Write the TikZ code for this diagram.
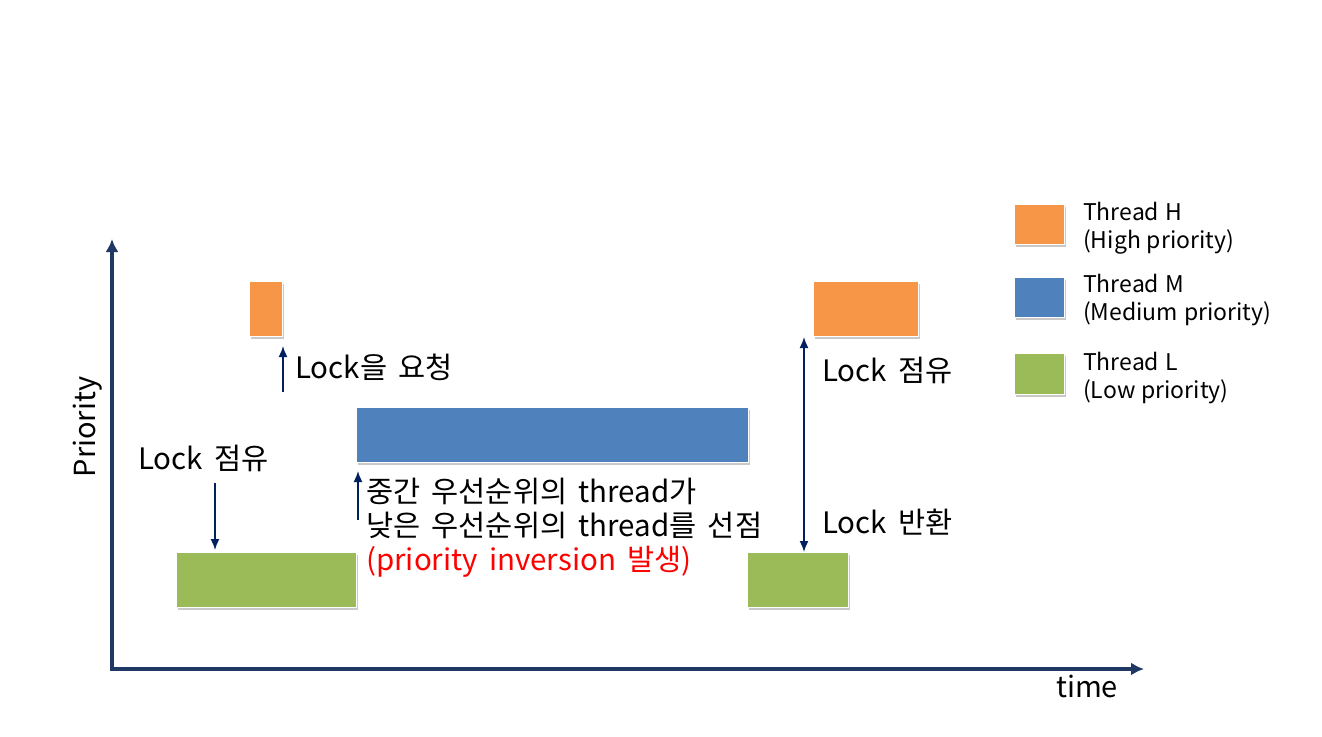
\documentclass[tikz,border=0pt]{standalone}
\usepackage{fontspec}
\setmainfont{Noto Sans CJK KR}[WordSpace=1.7]
\newfontfamily\legfont{Noto Sans CJK KR}[WordSpace=1.15]
\usetikzlibrary{arrows.meta,shadows}
\definecolor{cH}{HTML}{F79646}
\definecolor{cM}{HTML}{4F81BD}
\definecolor{cL}{HTML}{9BBB59}
\definecolor{axisc}{HTML}{1F3864}
\definecolor{arrc}{HTML}{002060}
\definecolor{redc}{HTML}{FF0000}
\begin{document}
\begin{tikzpicture}[x=1pt,y=-1pt,
  box/.style={draw=white, line width=1.2pt, inner sep=0pt, anchor=north west,
    drop shadow={shadow xshift=1.5pt,shadow yshift=-2.5pt,opacity=0.3,fill=black!70}},
  main/.style={font=\fontsize{29.5}{34}\selectfont, inner sep=0pt, anchor=west, align=left},
  leg/.style={font=\legfont\fontsize{23}{28}\selectfont, inner sep=0pt, anchor=west, align=left},
  axisarr/.style={draw=axisc, line width=3.5pt, -{Latex[length=13pt,width=13pt]}},
  arr/.style={draw=arrc, line width=1.6pt, -{Latex[length=11pt,width=9pt]}},
  darr/.style={draw=arrc, line width=1.6pt, {Latex[length=11pt,width=9pt]}-{Latex[length=11pt,width=9pt]}}
]
\useasboundingbox (0,0) rectangle (1322,736);
% axes
\coordinate (o) at (112,669);
\coordinate (ytop) at (112,239);
\coordinate (xend) at (1144,669);
\draw[axisarr] (o) -- (ytop);
\draw[axisarr] ([xshift=-1.75pt]o) -- (xend);
\node[font=\fontsize{29}{34}\selectfont, rotate=90, inner sep=0pt] (ylab) at (88,427) {Priority};
\node[font=\fontsize{29}{34}\selectfont, inner sep=0pt] (xlab) at (1087,686) {time};
% thread boxes
\node[box, fill=cH, minimum width=33pt, minimum height=55pt] (h1) at (249,281) {};
\node[box, fill=cH, minimum width=105pt, minimum height=55pt] (h2) at (813,281) {};
\node[box, fill=cM, minimum width=392pt, minimum height=55pt] (m) at (356,407) {};
\node[box, fill=cL, minimum width=180pt, minimum height=55pt] (l1) at (176,552) {};
\node[box, fill=cL, minimum width=101pt, minimum height=55pt] (l2) at (747,552) {};
% labels
\node[main] (t1) at (138,458) {Lock 점유};
\node[main] (t2) at (295,367) {Lock을 요청};
\node[main] (t3) at (366,508) {중간 우선순위의 thread가\\낮은 우선순위의 thread를 선점};
\node[main, text=redc] (t4) at (366,562) {(priority inversion 발생)};
\node[main] (t5) at (822,370) {Lock 점유};
\node[main] (t6) at (822,522) {Lock 반환};
% arrows
\coordinate (a1s) at (215,483);
\coordinate (a1e) at (215,550);
\draw[arr] (a1s) -- (a1e);
\coordinate (a2s) at (283,392);
\coordinate (a2e) at (283,346);
\draw[arr] (a2s) -- (a2e);
\coordinate (a3s) at (358,520);
\coordinate (a3e) at (358,471);
\draw[arr] (a3s) -- (a3e);
\coordinate (a4s) at (804,337);
\coordinate (a4e) at (804,552);
\draw[darr] (a4s) -- (a4e);
% legend
\node[box, fill=cH, minimum width=50pt, minimum height=40pt] (kh) at (1014,204) {};
\node[box, fill=cM, minimum width=50pt, minimum height=40pt] (km) at (1014,277) {};
\node[box, fill=cL, minimum width=50pt, minimum height=41pt] (kl) at (1014,353) {};
\node[leg] (lh) at (1083,228) {Thread H\\(High priority)};
\node[leg] (lm) at (1083,300) {Thread M\\(Medium priority)};
\node[leg] (ll) at (1083,378) {Thread L\\(Low priority)};
\end{tikzpicture}
\end{document}
